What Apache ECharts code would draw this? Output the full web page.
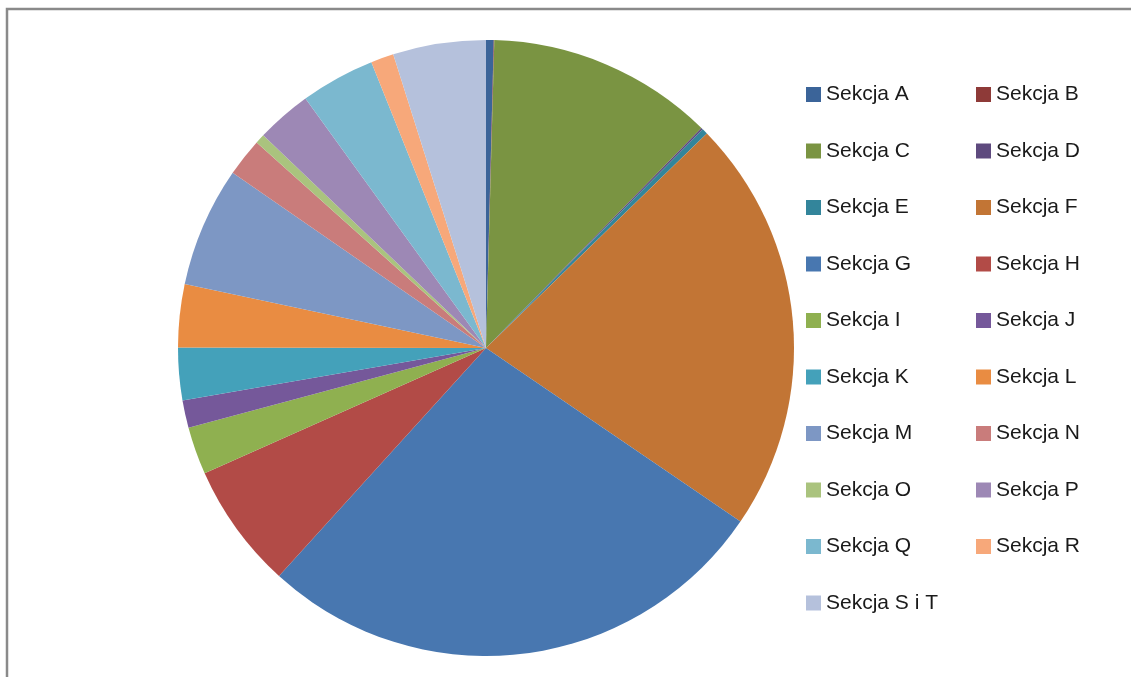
<!DOCTYPE html>
<html>
<head>
<meta charset="utf-8">
<script src="https://cdn.jsdelivr.net/npm/echarts@6/dist/echarts.min.js"></script>
<style>
  html, body { margin: 0; padding: 0; background: #fff; }
  #sekcje { width: 1131px; height: 677px; }
</style>
</head>
<body>
<div id="sekcje"></div>
<script>
// sekcje PKD, udzial w %
const sekcje = ['Sekcja A', 'Sekcja B', 'Sekcja C', 'Sekcja D', 'Sekcja E', 'Sekcja F',
  'Sekcja G', 'Sekcja H', 'Sekcja I', 'Sekcja J', 'Sekcja K', 'Sekcja L', 'Sekcja M',
  'Sekcja N', 'Sekcja O', 'Sekcja P', 'Sekcja Q', 'Sekcja R', 'Sekcja S i T'];
const udzial = [0.4, 0.03, 11.9, 0.1, 0.3, 21.8, 27.2, 6.6, 2.5, 1.45, 2.75, 3.3, 6.3,
  2.0, 0.5, 2.9, 3.9, 1.2, 4.87];
const kolory = ['#3b6499', '#8e3a38', '#7a9442', '#5e4a7e', '#33859b', '#c27535',
  '#4877b0', '#b24b47', '#8fb050', '#75589a', '#44a1ba', '#e98c42', '#7d97c4',
  '#c97c7b', '#aac37e', '#9d88b5', '#7bb8cf', '#f7a87a', '#b5c1dc'];

const chartDom = document.getElementById('sekcje');
let myChart = echarts.init(chartDom);

const legendStyle = {
  orient: 'vertical',
  top: 79,
  itemWidth: 15,
  itemHeight: 15,
  itemGap: 35.5,
  icon: 'rect',
  textStyle: {
    color: '#1a1a1a',
    fontSize: 21,
    lineHeight: 21,
    fontFamily: 'Liberation Sans'
  }
};

let option = {
  animation: false,
  color: kolory,
  legend: [
    Object.assign({ left: 801, data: sekcje.filter((s, i) => i % 2 === 0) }, legendStyle),
    Object.assign({ left: 971, data: sekcje.filter((s, i) => i % 2 === 1) }, legendStyle)
  ],
  graphic: [{
    type: 'rect',
    shape: { x: 7, y: 9, width: 1300, height: 800 },
    style: { fill: 'none', stroke: '#8a8a8a', lineWidth: 2.5 },
    silent: true
  }],
  series: [{
    type: 'pie',
    center: [486, 348],
    radius: [0, 308],
    startAngle: 90,
    clockwise: true,
    label: { show: false },
    labelLine: { show: false },
    itemStyle: { borderWidth: 0 },
    data: sekcje.map((s, i) => ({ name: s, value: udzial[i] }))
  }]
};
option && myChart.setOption(option);
</script>
</body>
</html>
